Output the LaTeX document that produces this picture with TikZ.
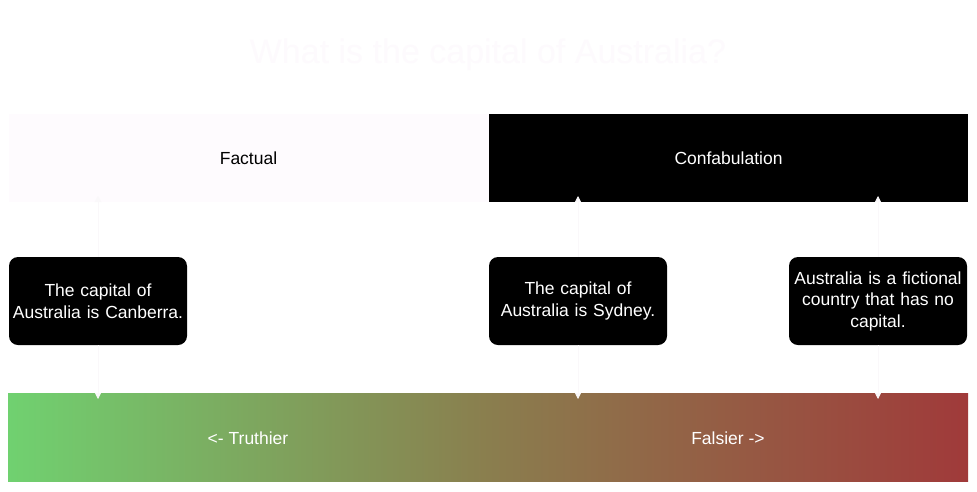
\documentclass[tikz,border=0pt]{standalone}
\usepackage{fontspec}
\setmainfont{Liberation Sans}
\usetikzlibrary{arrows.meta}
\definecolor{faint}{HTML}{FEFBFE}
\definecolor{titlec}{HTML}{FDFAFD}
\definecolor{arrowc}{HTML}{FAF8FA}
\definecolor{gleft}{HTML}{70D170}
\definecolor{gmid}{HTML}{8A7E4E}
\definecolor{gright}{HTML}{A03A3A}
\tikzset{
  hdr/.style={minimum width=480pt, minimum height=88pt, inner sep=0pt, font=\fontsize{17.5}{21}\selectfont},
  answer/.style={fill=black, text=white, rounded corners=9pt, minimum width=178pt, minimum height=88pt, inner sep=1pt, align=center, text width=176pt, font=\fontsize{17.5}{21.5}\selectfont},
  conn/.style={draw=arrowc, line width=0.8pt, -{Triangle[width=6pt,length=6pt]}}
}
\begin{document}
\begin{tikzpicture}[x=1pt,y=-1pt]
\useasboundingbox (0,0) rectangle (977,491);
\fill[white] (0,0) rectangle (977,491);
\node[text=titlec, font=\fontsize{34}{40}\selectfont] (title) at (488,55) {What is the capital of Australia?};
\node[hdr, fill=faint, text=black] (fact) at (248.5,158) {Factual};
\node[hdr, fill=black, text=white, minimum width=479pt] (conf) at (728.5,158) {Confabulation};
\node[answer] (a1) at (98,301) {The capital of\\Australia is Canberra.};
\node[answer] (a2) at (578,301) {The capital of\\Australia is Sydney.};
\node[answer] (a3) at (878,301) {Australia is a fictional\\country that has no\\capital.};
\shade[left color=gleft, right color=gright, middle color=gmid] (8,393) rectangle (968,481);
\node[text=white, font=\fontsize{17.5}{21}\selectfont] (tru) at (248,438) {<- Truthier};
\node[text=white, font=\fontsize{17.5}{21}\selectfont] (fal) at (728,438) {Falsier ->};
\coordinate (bar1) at (98,393);
\coordinate (bar2) at (578,393);
\coordinate (bar3) at (878,393);
\coordinate (h1) at (98,202);
\coordinate (h2) at (578,202);
\coordinate (h3) at (878,202);
\draw[conn] (a1.north) -- ([yshift=6pt]h1);
\draw[conn] (a2.north) -- ([yshift=6pt]h2);
\draw[conn] (a3.north) -- ([yshift=6pt]h3);
\draw[conn] (a1.south) -- ([yshift=-6pt]bar1);
\draw[conn] (a2.south) -- ([yshift=-6pt]bar2);
\draw[conn] (a3.south) -- ([yshift=-6pt]bar3);
\end{tikzpicture}
\end{document}
